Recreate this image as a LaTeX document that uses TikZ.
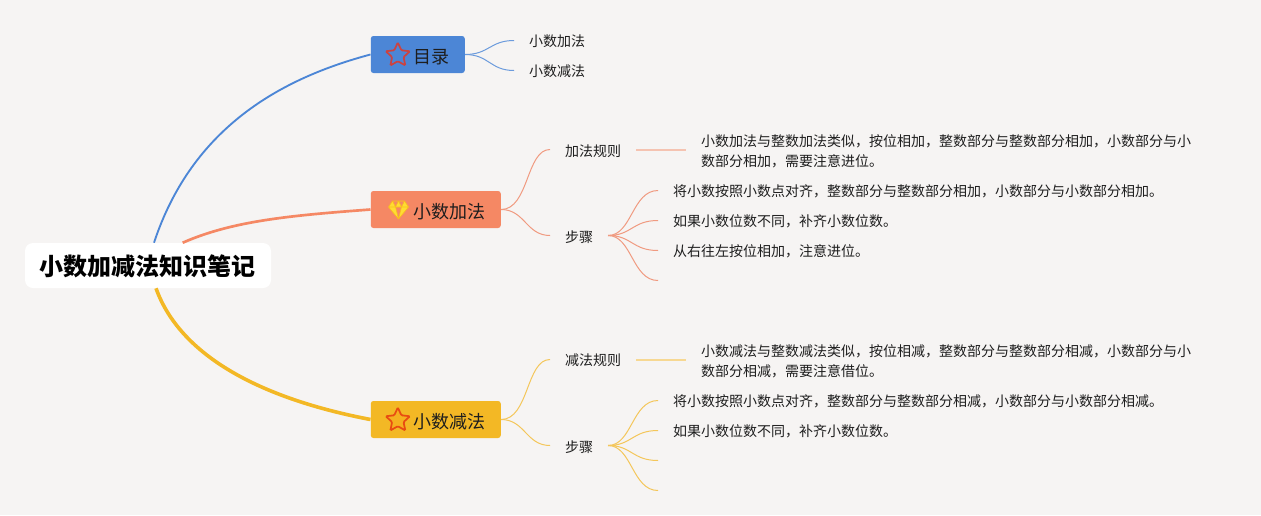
\documentclass[tikz,border=0pt]{standalone}
\usepackage{fontspec}
\setmainfont{Noto Sans CJK SC}
\usetikzlibrary{positioning,shapes.geometric}
\definecolor{paperbg}{HTML}{F6F4F3}
\definecolor{inkdark}{HTML}{1E1E1E}
\definecolor{tocblue}{HTML}{4C86D6}
\definecolor{tocline}{HTML}{6C9BDC}
\definecolor{tocstarred}{HTML}{CB4341}
\definecolor{addorange}{HTML}{F58864}
\definecolor{addline}{HTML}{F09A80}
\definecolor{addpale}{HTML}{F5C3B1}
\definecolor{gemyellow}{HTML}{FFDC32}
\definecolor{gemedge}{HTML}{F8BE1E}
\definecolor{subyellow}{HTML}{F3B825}
\definecolor{subline}{HTML}{F4C65A}
\definecolor{subpale}{HTML}{F7D892}
\definecolor{substarred}{HTML}{E84C12}

\begin{document}
\begin{tikzpicture}[x=.75pt,y=-.75pt,
  rootbox/.style={fill=white,rounded corners=6pt,minimum width=184.5pt,minimum height=33.75pt,
                  text=black,font=\fontsize{18}{22}\selectfont\bfseries,
                  execute at begin node={\rule{0pt}{17.5pt}}},
  mainbox/.style={rounded corners=2pt,minimum height=27.75pt,inner xsep=11.25pt,anchor=west,
                  text=inkdark,font=\fontsize{13.5}{16}\selectfont,
                  execute at begin node={\rule{0pt}{15pt}}},
  leaf/.style={inner xsep=0pt,inner ysep=0pt,outer xsep=11.25pt,align=left,
               text=inkdark,font=\fontsize{10.5}{15}\selectfont,
               execute at begin node={\rule{0pt}{10.6pt}}},
  longleaf/.style={leaf,yshift=-1.5pt},
  twig/.style={line width=.75pt},
  ruleline/.style={line width=1.5pt},
  staricon/.style={star,star points=5,star point ratio=2.1,minimum size=19pt,inner sep=0pt,
                   line width=1.3pt,rounded corners=.8pt}]
\fill[paperbg] (0,0) rectangle (1261,515);
\useasboundingbox (0,0) rectangle (1261,515);

\node[rootbox] (root) at (148,265.5) {小数加减法知识笔记};
\node[mainbox,fill=tocblue] (toc) at (370.5,54.5) {\hspace*{21pt}目录};
\node[mainbox,fill=addorange] (add) at (370.5,209.5) {\hspace*{21pt}小数加法};
\node[mainbox,fill=subyellow] (minus) at (370.5,419.5) {\hspace*{21pt}小数减法};

\node[staricon,draw=tocstarred] (tocstar) at ([xshift=20.5pt,yshift=-.5pt]toc.west) {};
\node[staricon,draw=substarred,fill=subyellow!85!orange] (minusstar) at ([xshift=20.5pt,yshift=-.5pt]minus.west) {};
\draw[shift={(398.5,210)},draw=gemedge,fill=gemyellow,line width=.45pt,line join=round]
  (-6,-9)--(6,-9)--(10,-3)--(0,9)--(-10,-3)--cycle (-10,-3)--(10,-3)
  (-6,-9)--(-3,-3)--(0,-9)--(3,-3)--(6,-9) (-3,-3)--(0,9)--(3,-3);

% toc leaves
\node[leaf,right=36.75pt of toc,yshift=10.5pt] (tocadd) {小数加法};
\node[leaf,right=36.75pt of toc,yshift=-12pt] (tocsub) {小数减法};

% add branch
\node[leaf,right=36.75pt of add,yshift=45pt] (addrule) {加法规则};
\node[leaf,right=36.75pt of add,yshift=-19.5pt] (addstep) {步骤};
\node[longleaf,right=37.5pt of addrule] (addruletxt) {小数加法与整数加法类似，按位相加，整数部分与整数部分相加，小数部分与小\\数部分相加，需要注意进位。};
\node[leaf,right=37.5pt of addstep,yshift=33.75pt] (addstepa) {将小数按照小数点对齐，整数部分与整数部分相加，小数部分与小数部分相加。};
\node[leaf,right=37.5pt of addstep,yshift=11.25pt] (addstepb) {如果小数位数不同，补齐小数位数。};
\node[leaf,right=37.5pt of addstep,yshift=-11.25pt] (addstepc) {从右往左按位相加，注意进位。};
\coordinate[right=37.5pt of addstep,yshift=-33.75pt] (addstepd);

% minus branch
\node[leaf,right=36.75pt of minus,yshift=45pt] (minusrule) {减法规则};
\node[leaf,right=36.75pt of minus,yshift=-19.5pt] (minusstep) {步骤};
\node[longleaf,right=37.5pt of minusrule] (minusruletxt) {小数减法与整数减法类似，按位相减，整数部分与整数部分相减，小数部分与小\\数部分相减，需要注意借位。};
\node[leaf,right=37.5pt of minusstep,yshift=33.75pt] (minusstepa) {将小数按照小数点对齐，整数部分与整数部分相减，小数部分与小数部分相减。};
\node[leaf,right=37.5pt of minusstep,yshift=11.25pt] (minusstepb) {如果小数位数不同，补齐小数位数。};
\coordinate[right=37.5pt of minusstep,yshift=-11.25pt] (minusstepc);
\coordinate[right=37.5pt of minusstep,yshift=-33.75pt] (minusstepd);

% main branches
\draw[tocblue,line width=1.4pt] ([xshift=4.5pt]root.north) .. controls +(38,-115) and +(-90,24) .. (toc.west);
\draw[addorange,line width=2pt] ([xshift=26pt]root.north) .. controls +(50,-22) and +(-80,6) .. (add.west);
\draw[subyellow,line width=2.7pt] ([xshift=6pt]root.south) .. controls +(25,70) and +(-105,-20) .. (minus.west);

% toc twigs
\draw[twig,tocline] (toc.east) .. controls +(24,0) and +(-24,0) .. (tocadd.west);
\draw[twig,tocline] (toc.east) .. controls +(24,0) and +(-24,0) .. (tocsub.west);

% add twigs
\draw[twig,addline] (add.east) .. controls +(28,0) and +(-24,0) .. (addrule.west);
\draw[twig,addline] (add.east) .. controls +(24,0) and +(-24,0) .. (addstep.west);
\draw[ruleline,draw=addpale] (addrule.east) -- (addrule.east -| addruletxt.west);
\draw[line width=1.3pt,addline] (addstep.east) -- ++(8,0);
\draw[twig,addline] (addstep.east) .. controls +(24,0) and +(-26,0) .. (addstepa.west);
\draw[twig,addline] (addstep.east) .. controls +(24,0) and +(-26,0) .. (addstepb.west);
\draw[twig,addline] (addstep.east) .. controls +(24,0) and +(-26,0) .. (addstepc.west);
\draw[twig,addline] (addstep.east) .. controls +(24,0) and +(-26,0) .. (addstepd);

% minus twigs
\draw[twig,subline] (minus.east) .. controls +(28,0) and +(-24,0) .. (minusrule.west);
\draw[twig,subline] (minus.east) .. controls +(24,0) and +(-24,0) .. (minusstep.west);
\draw[ruleline,draw=subpale] (minusrule.east) -- (minusrule.east -| minusruletxt.west);
\draw[line width=1.3pt,subline] (minusstep.east) -- ++(8,0);
\draw[twig,subline] (minusstep.east) .. controls +(24,0) and +(-26,0) .. (minusstepa.west);
\draw[twig,subline] (minusstep.east) .. controls +(24,0) and +(-26,0) .. (minusstepb.west);
\draw[twig,subline] (minusstep.east) .. controls +(24,0) and +(-26,0) .. (minusstepc);
\draw[twig,subline] (minusstep.east) .. controls +(24,0) and +(-26,0) .. (minusstepd);
\end{tikzpicture}
\end{document}
